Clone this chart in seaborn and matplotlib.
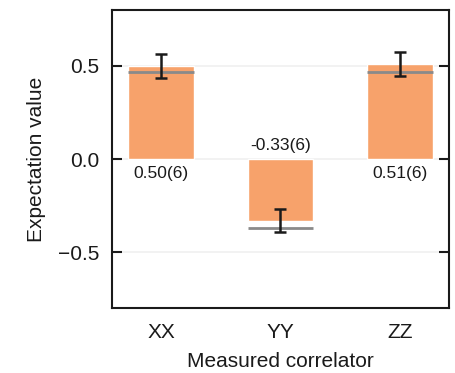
import matplotlib
matplotlib.use("Agg")
import matplotlib.pyplot as plt
import seaborn as sns
import pandas as pd
import numpy as np

correlators = ["XX", "YY", "ZZ"]
measured = [0.50, -0.33, 0.51]
errors = [0.065, 0.064, 0.066]
ideal = [0.47, -0.37, 0.47]
labels = ["0.50(6)", "-0.33(6)", "0.51(6)"]

sns.set_theme(style="white")
plt.rcParams['font.family'] = ['Liberation Sans', 'DejaVu Sans']

df = pd.DataFrame({"corr": correlators, "val": measured})

fig = plt.figure(figsize=(4.56, 3.73), dpi=100)
ax = fig.add_axes([0.2456, 0.174, 0.7390, 0.799])

for y in [-0.5, 0.0, 0.5]:
    ax.axhline(y, color="#f0f0f0", lw=1.2, zorder=0)

width = 0.55
sns.barplot(data=df, x="corr", y="val", color="#F7A26B", saturation=1,
            width=width, ax=ax, errorbar=None, zorder=2)

xs = np.arange(len(correlators))
for x, v in zip(xs, ideal):
    ax.hlines(v, x - width / 2, x + width / 2, color="#8a8a8a", lw=2, zorder=3)

ax.errorbar(xs, measured, yerr=errors, fmt="none", ecolor="#1a1a1a",
            elinewidth=1.8, capsize=4.5, capthick=1.8, zorder=4)

for x, v, t in zip(xs, measured, labels):
    if v >= 0:
        ax.text(x, -0.035, t, ha="center", va="top", fontsize=12.5, color="#1a1a1a")
    else:
        ax.text(x, 0.03, t, ha="center", va="bottom", fontsize=12.5, color="#1a1a1a")

ax.set_ylim(-0.8, 0.8)
ax.set_xlim(-0.41, 2.41)
ax.set_yticks([-0.5, 0.0, 0.5])
ax.set_yticklabels(["\u22120.5", "0.0", "0.5"])
ax.set_xlabel("Measured correlator", fontsize=15, color="#1a1a1a", labelpad=7)
ax.set_ylabel("Expectation value", fontsize=15, color="#1a1a1a", labelpad=9)
ax.tick_params(axis="y", direction="in", length=7, width=1.5, right=True, left=True,
               labelsize=15, colors="#1a1a1a", pad=9)
ax.tick_params(axis="x", length=0, labelsize=15, colors="#1a1a1a", pad=11)
for s in ax.spines.values():
    s.set_color("#1a1a1a")
    s.set_linewidth(1.5)
    s.set_visible(True)

fig.savefig("out.png", dpi=100)
